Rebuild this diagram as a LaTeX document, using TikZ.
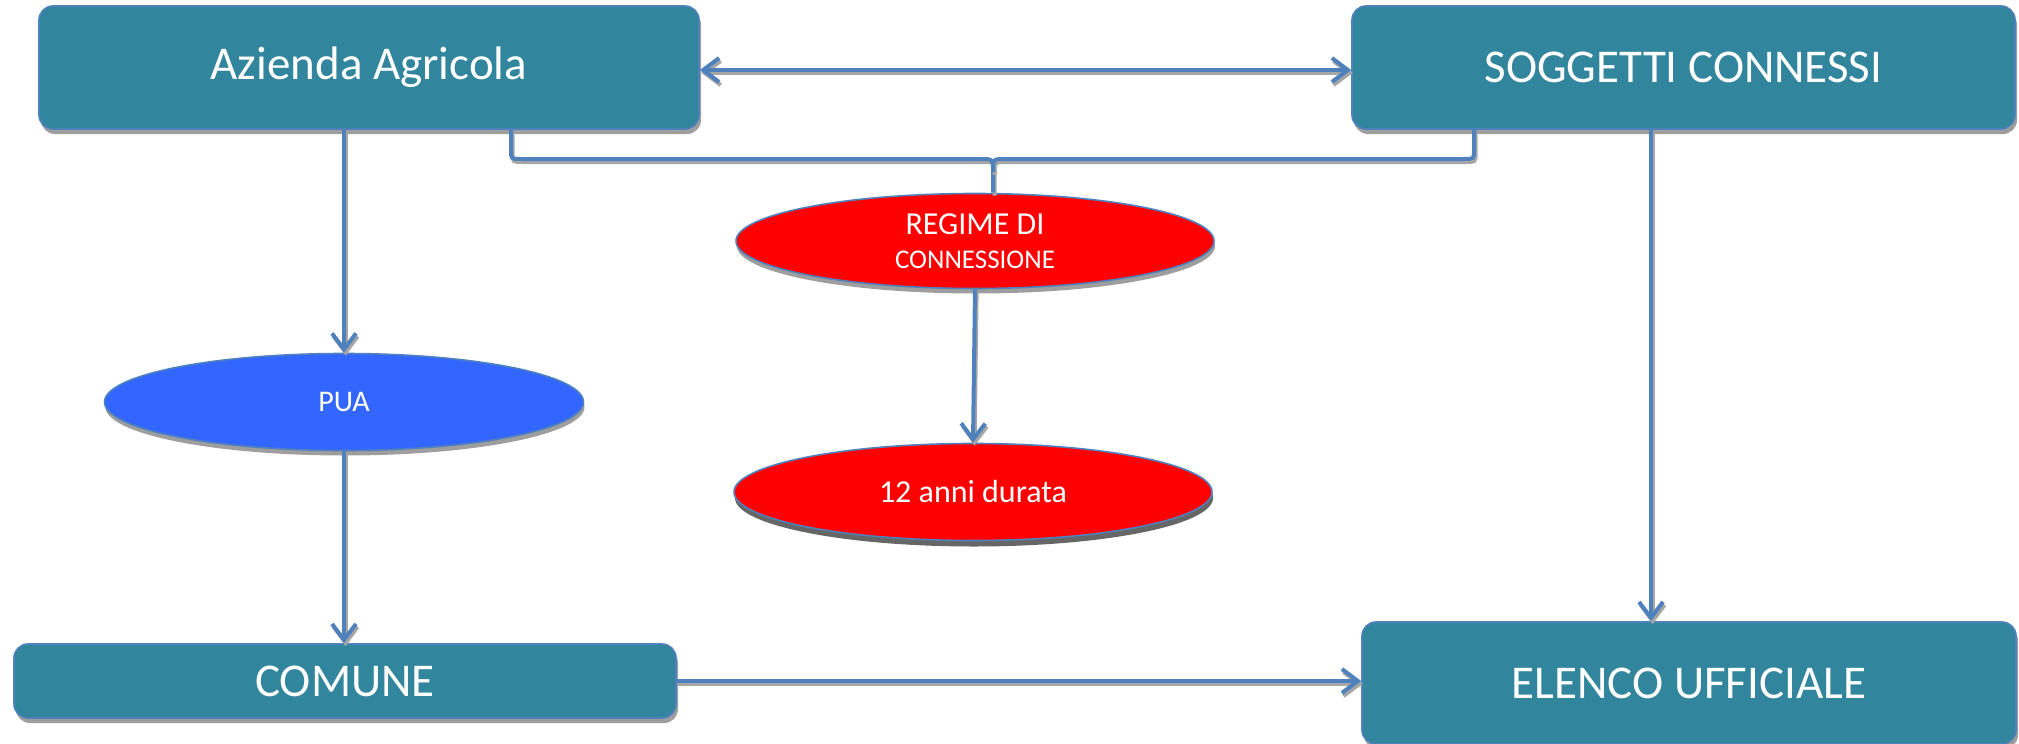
\documentclass[tikz,border=0pt]{standalone}
\usepackage{fontspec}
\setmainfont{Carlito}
\usetikzlibrary{shapes.geometric,arrows.meta,shadows}
\definecolor{boxteal}{HTML}{31859C}
\definecolor{linkblue}{HTML}{4F81BD}
\definecolor{puablue}{HTML}{3366FF}
\definecolor{regred}{HTML}{FF0000}
\tikzset{
  box/.style={rectangle, rounded corners=7pt, fill=boxteal, draw=linkblue, line width=0.8pt,
    text=white, font=\fontsize{23.5}{28}\selectfont, inner sep=0pt,
    drop shadow={shadow xshift=1pt, shadow yshift=-2.5pt, fill=black!38, opacity=1}},
  oval/.style={ellipse, draw=linkblue, line width=0.8pt, text=white, inner sep=0pt,
    drop shadow={shadow xshift=0.5pt, shadow yshift=-2.5pt, fill=black!38, opacity=1}},
  conn/.style={draw=linkblue, line width=2pt,
    preaction={draw=black!35, line width=2pt, transform canvas={shift={(0.8pt,-1.5pt)}}}},
  arr/.style={conn, -{Straight Barb[length=8pt,width=12pt]}},
}
\begin{document}
\begin{tikzpicture}[x=0.5pt,y=-0.5pt]
\useasboundingbox (0,0) rectangle (2019,744);

\node[box, minimum width=330pt, minimum height=61.5pt] (az) at (369,67.5) {Azienda Agricola};
\node[box, minimum width=331.5pt, minimum height=61.5pt] (sc) at (1683.5,67.5) {SOGGETTI CONNESSI};
\node[box, minimum width=331pt, minimum height=37pt] (com) at (345,681) {COMUNE};
\node[box, minimum width=327pt, minimum height=61pt] (el) at (1689,683) {ELENCO UFFICIALE};

\node[oval, fill=puablue, minimum width=239.5pt, minimum height=48.5pt, font=\fontsize{15}{18}\selectfont] (pua) at (344,402) {PUA};
\node[oval, fill=regred, minimum width=239pt, minimum height=47.5pt, align=center,
  font=\fontsize{16}{17}\selectfont] (rg) at (975,241)
  {REGIME DI\\{\fontsize{13.5}{17}\selectfont CONNESSIONE}};
\node[oval, fill=regred, minimum width=239pt, minimum height=48.5pt, font=\fontsize{16}{19}\selectfont,
  drop shadow={shadow xshift=0.5pt, shadow yshift=-3pt, fill=black!60, opacity=1}] (dur) at (973,492) {12 anni durata};

% connectors
\draw[conn, {Straight Barb[length=8pt,width=12pt]}-{Straight Barb[length=8pt,width=12pt]}]
  ([yshift=-1.25pt]az.east) -- ([yshift=-1.25pt]sc.west);
\draw[arr] (az.south -| pua.north) -- (pua.north);
\draw[arr] (pua.south) -- (pua.south |- com.north);
\draw[arr] (com.east) -- (com.east -| el.west);
\coordinate (scx) at ([xshift=-16.25pt]sc.south);
\draw[arr] (scx) -- (scx |- el.north);
\draw[arr] (rg.south) -- (dur.north);

% brace to regime
\coordinate (bl) at ([xshift=71pt]az.south);
\coordinate (br) at ([xshift=-104.75pt]sc.south);
\coordinate (bt) at ([xshift=9pt]rg.north);
\draw[conn] (bl) -- (511,150) .. controls (511,159) .. (521,159) -- (981,159)
  .. controls (993,159) .. (993,172) -- (bt);
\draw[conn] (br) -- (1474,150) .. controls (1474,159) .. (1464,159) -- (1005,159)
  .. controls (993,159) .. (993,172);
\end{tikzpicture}
\end{document}
